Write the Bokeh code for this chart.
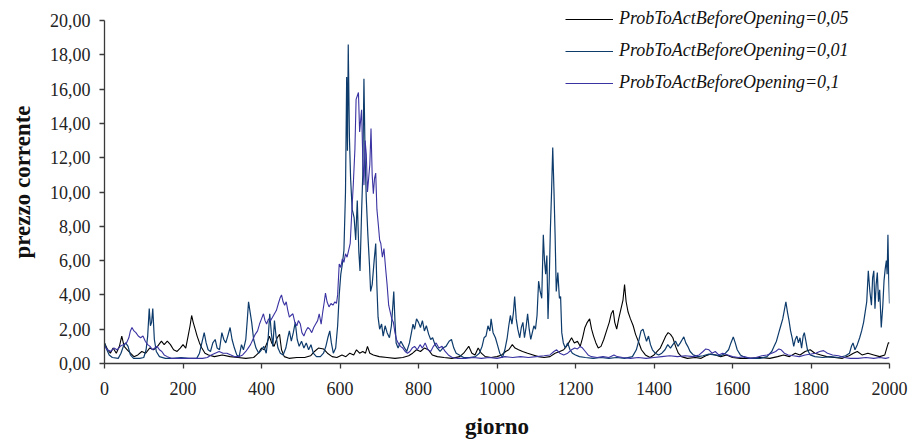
from bokeh.plotting import figure
from bokeh.models import Range1d, Legend, LegendItem, FixedTicker
from bokeh.embed import file_html
from bokeh.resources import INLINE

# Simulated current price per day, one series per ProbToActBeforeOpening value
days_005 = [0, 8, 15, 22, 30, 38, 44, 50, 58, 66, 75, 85, 95, 105, 115, 125, 135, 145, 152, 160,
            168, 176, 185, 193, 200, 207, 213, 218, 222, 226, 231, 236, 242, 248, 256, 265, 280, 300, 320, 340,
            360, 380, 392, 400, 407, 414, 420, 426, 432, 440, 446, 451, 458, 470, 490, 510, 525, 535, 545, 558,
            568, 580, 592, 605, 615, 625, 635, 642, 650, 658, 665, 670, 676, 685, 700, 720, 740, 760, 775, 785,
            795, 805, 815, 825, 835, 848, 865, 885, 905, 915, 928, 936, 944, 952, 960, 970, 985, 1000, 1012, 1022,
            1030, 1039, 1046, 1055, 1065, 1078, 1092, 1105, 1120, 1135, 1148, 1160, 1170, 1180, 1190, 1197, 1205, 1212, 1218, 1224,
            1230, 1236, 1241, 1246, 1252, 1258, 1265, 1272, 1279, 1286, 1291, 1296, 1300, 1305, 1310, 1316, 1321, 1325, 1329, 1334,
            1340, 1347, 1353, 1360, 1368, 1378, 1390, 1400, 1408, 1416, 1424, 1430, 1436, 1442, 1448, 1455, 1462, 1470, 1485, 1505,
            1520, 1532, 1545, 1556, 1570, 1585, 1600, 1620, 1645, 1670, 1695, 1715, 1730, 1745, 1760, 1772, 1785, 1798, 1810, 1825,
            1840, 1860, 1880, 1897, 1908, 1918, 1930, 1945, 1960, 1975, 1988, 1993, 1997, 2000]
price_005 = [1.2, 0.8, 0.6, 0.9, 0.6, 1.0, 1.6, 1.0, 0.8, 0.6, 0.4, 0.5, 0.7, 0.6, 0.9, 0.8, 1.0, 1.3, 1.1, 1.3,
             1.1, 0.8, 0.7, 0.9, 1.1, 0.9, 1.6, 2.2, 2.8, 2.4, 2.0, 1.6, 1.2, 0.9, 0.6, 0.5, 0.4, 0.5, 0.4, 0.35,
             0.3, 0.35, 0.6, 0.9, 0.8, 1.2, 1.6, 1.2, 1.0, 1.5, 1.7, 0.8, 0.4, 0.3, 0.35, 0.35, 0.45, 0.7, 0.9, 0.85,
             0.6, 0.4, 0.35, 0.5, 0.4, 0.6, 0.5, 0.8, 0.6, 0.7, 0.6, 1.0, 0.6, 0.5, 0.4, 0.35, 0.3, 0.35, 0.45, 0.6,
             0.8, 0.7, 0.9, 0.8, 0.5, 0.4, 0.35, 0.3, 0.4, 0.6, 1.0, 0.6, 0.5, 0.9, 0.6, 0.4, 0.35, 0.4, 0.5, 0.7,
             0.8, 1.1, 0.9, 0.8, 0.7, 0.6, 0.5, 0.4, 0.35, 0.4, 0.6, 0.7, 0.8, 1.1, 1.5, 1.2, 1.3, 1.0, 1.5, 2.1,
             2.4, 2.6, 2.0, 1.6, 1.2, 0.9, 1.0, 1.4, 1.9, 2.4, 2.9, 3.1, 2.4, 2.0, 2.6, 3.2, 3.7, 4.6, 3.6, 3.0,
             2.6, 2.2, 1.7, 1.3, 0.8, 0.5, 0.35, 0.5, 0.7, 0.9, 1.3, 1.6, 1.8, 1.7, 1.5, 1.0, 0.6, 0.4, 0.3, 0.35,
             0.3, 0.45, 0.55, 0.5, 0.4, 0.5, 0.35, 0.3, 0.3, 0.35, 0.3, 0.4, 0.5, 0.4, 0.6, 0.5, 0.7, 0.8, 0.6, 0.5,
             0.4, 0.35, 0.3, 0.45, 0.6, 0.7, 0.5, 0.6, 0.5, 0.4, 0.5, 0.9, 1.2, 1.2]

days_001 = [0, 6, 12, 20, 35, 42, 48, 54, 60, 66, 74, 90, 100, 106, 110, 114, 117, 120, 123, 127,
            132, 140, 155, 175, 195, 215, 235, 242, 248, 254, 259, 264, 270, 276, 282, 287, 293, 299, 304, 309,
            314, 320, 325, 331, 337, 343, 349, 354, 360, 364, 367, 371, 375, 380, 386, 393, 400, 406, 412, 417,
            421, 425, 429, 433, 437, 442, 448, 455, 462, 467, 471, 476, 481, 486, 491, 496, 502, 508, 514, 520,
            526, 532, 540, 550, 558, 564, 569, 574, 578, 583, 589, 594, 598, 602, 606, 610, 614, 617, 619, 621,
            624, 627, 631, 636, 640, 644, 648, 651, 655, 658, 661, 664, 667, 671, 675, 678, 682, 687, 691, 694,
            697, 701, 706, 710, 715, 720, 726, 731, 735, 737, 740, 743, 748, 755, 762, 770, 777, 782, 786, 790,
            795, 800, 805, 810, 815, 820, 826, 831, 836, 842, 848, 855, 862, 870, 878, 884, 890, 896, 904, 915,
            930, 945, 955, 962, 967, 972, 977, 982, 985, 990, 996, 1001, 1007, 1014, 1020, 1026, 1030, 1034, 1038, 1042,
            1045, 1049, 1053, 1058, 1062, 1066, 1070, 1074, 1078, 1082, 1086, 1090, 1094, 1098, 1102, 1106, 1110, 1114, 1118, 1121,
            1124, 1127, 1130, 1133, 1136, 1139, 1142, 1145, 1148, 1151, 1155, 1159, 1162, 1165, 1169, 1174, 1180, 1186, 1192, 1200,
            1210, 1225, 1245, 1265, 1285, 1305, 1325, 1345, 1355, 1362, 1367, 1372, 1377, 1381, 1386, 1391, 1396, 1403, 1412, 1420,
            1428, 1435, 1442, 1448, 1455, 1461, 1467, 1472, 1476, 1481, 1486, 1492, 1500, 1512, 1525, 1540, 1555, 1570, 1582, 1590,
            1596, 1602, 1607, 1612, 1620, 1632, 1650, 1670, 1688, 1700, 1706, 1712, 1718, 1723, 1728, 1732, 1736, 1740, 1744, 1748,
            1752, 1756, 1760, 1764, 1768, 1772, 1776, 1780, 1783, 1787, 1791, 1798, 1810, 1830, 1850, 1870, 1888, 1898, 1903, 1907,
            1912, 1918, 1924, 1929, 1934, 1938, 1942, 1946, 1950, 1954, 1957, 1960, 1963, 1966, 1969, 1972, 1975, 1979, 1983, 1986,
            1989, 1992, 1994, 1996, 1998, 2000]
price_001 = [1.2, 0.8, 0.5, 0.35, 0.3, 0.6, 1.0, 1.2, 1.0, 0.5, 0.3, 0.3, 0.35, 0.8, 1.6, 3.2, 2.2, 2.4, 3.2, 1.4,
             0.7, 0.4, 0.3, 0.3, 0.35, 0.3, 0.3, 0.6, 1.2, 1.8, 1.2, 0.8, 0.7, 1.2, 1.4, 0.9, 0.8, 1.8, 1.4, 1.2,
             1.6, 2.1, 1.4, 0.9, 0.5, 0.4, 1.1, 0.8, 1.4, 2.6, 3.6, 3.0, 2.4, 1.4, 0.9, 0.6, 0.8, 1.0, 0.6, 1.5,
             2.9, 1.8, 1.0, 2.5, 1.6, 0.9, 0.6, 0.5, 0.9, 1.5, 1.9, 1.3, 1.8, 2.4, 1.4, 1.0, 1.3, 0.9, 1.2, 0.8,
             1.1, 0.6, 0.4, 0.4, 0.6, 1.0, 1.5, 1.9, 1.2, 0.6, 0.9, 2.2, 4.0, 5.2, 5.8, 6.6, 10.0, 16.7, 12.4, 18.6,
             13.2, 10.8, 9.0, 8.5, 7.2, 9.5, 6.5, 5.4, 8.8, 11.0, 16.6, 12.0, 9.6, 7.5, 5.8, 4.2, 4.6, 6.0, 7.0, 4.5,
             2.7, 2.0, 2.3, 1.6, 2.2, 1.8, 1.5, 2.2, 3.5, 4.2, 2.5, 1.2, 0.9, 1.3, 1.0, 0.7, 1.2, 1.8, 2.3, 2.0,
             2.6, 2.4, 2.1, 2.5, 1.9, 2.2, 1.7, 1.4, 1.5, 1.1, 0.9, 0.7, 0.9, 1.0, 1.3, 1.4, 0.9, 0.6, 0.5, 0.35,
             0.35, 0.4, 0.6, 1.0, 1.5, 1.6, 2.2, 1.9, 2.6, 1.8, 1.5, 1.1, 0.6, 0.35, 0.8, 1.5, 2.2, 2.8, 2.3, 3.0,
             3.9, 2.6, 2.0, 1.5, 2.1, 2.4, 1.5, 2.1, 2.9, 2.0, 1.4, 1.8, 2.2, 2.0, 2.8, 4.8, 4.2, 3.8, 7.5, 6.0,
             5.2, 6.3, 2.6, 4.8, 7.8, 10.0, 12.6, 10.2, 7.5, 4.2, 5.3, 3.8, 3.9, 1.8, 1.2, 0.9, 1.2, 0.8, 0.6, 0.5,
             0.4, 0.35, 0.3, 0.35, 0.3, 0.35, 0.3, 0.4, 0.8, 1.4, 1.9, 2.0, 1.6, 1.3, 1.6, 1.1, 0.8, 0.6, 0.5, 0.6,
             0.8, 1.1, 0.9, 1.1, 1.3, 1.0, 1.2, 1.4, 1.55, 1.2, 1.0, 0.7, 0.5, 0.4, 0.45, 0.55, 0.5, 0.45, 0.6, 0.8,
             1.2, 1.55, 1.2, 0.8, 0.5, 0.35, 0.3, 0.3, 0.4, 0.7, 1.0, 1.3, 1.8, 2.2, 2.6, 3.1, 3.6, 3.0, 2.5, 1.9,
             1.5, 1.0, 1.4, 1.6, 1.2, 1.5, 0.9, 1.6, 1.8, 1.3, 0.8, 0.5, 0.4, 0.35, 0.4, 0.35, 0.45, 0.6, 1.0, 1.2,
             0.8, 1.1, 1.5, 1.9, 2.4, 3.0, 3.6, 5.4, 4.2, 3.4, 5.0, 5.4, 3.2, 4.6, 5.3, 3.6, 4.3, 2.1, 3.4, 4.8,
             5.5, 6.0, 5.2, 7.5, 5.0, 3.5]

days_01 = [0, 8, 16, 24, 32, 40, 48, 56, 62, 66, 70, 75, 80, 86, 92, 98, 104, 110, 116, 122,
           128, 134, 140, 146, 152, 160, 170, 190, 210, 230, 250, 262, 272, 282, 292, 302, 312, 322, 332, 342,
           352, 360, 366, 372, 378, 384, 390, 395, 400, 405, 409, 413, 418, 423, 428, 433, 438, 443, 447, 451,
           455, 459, 463, 467, 471, 475, 480, 485, 490, 494, 499, 503, 508, 513, 518, 523, 528, 533, 538, 543,
           547, 552, 556, 560, 563, 567, 572, 577, 582, 587, 591, 594, 598, 602, 606, 610, 614, 618, 622, 626,
           630, 634, 638, 641, 644, 647, 650, 653, 655, 658, 661, 664, 667, 670, 673, 676, 679, 682, 685, 688,
           691, 694, 698, 701, 704, 708, 712, 716, 720, 724, 728, 732, 736, 740, 744, 748, 754, 760, 766, 772,
           778, 784, 790, 797, 804, 810, 817, 824, 831, 838, 845, 852, 860, 868, 876, 886, 900, 920, 940, 960,
           980, 1000, 1020, 1040, 1060, 1080, 1100, 1120, 1135, 1145, 1152, 1160, 1170, 1180, 1190, 1198, 1205, 1212, 1218, 1225,
           1232, 1240, 1255, 1270, 1285, 1298, 1306, 1320, 1340, 1360, 1380, 1400, 1420, 1440, 1460, 1480, 1500, 1515, 1525, 1532,
           1540, 1548, 1556, 1565, 1575, 1588, 1600, 1615, 1630, 1645, 1660, 1675, 1688, 1700, 1710, 1718, 1724, 1732, 1742, 1755,
           1770, 1785, 1800, 1812, 1822, 1832, 1842, 1855, 1870, 1885, 1900, 1920, 1940, 1960, 1975, 1990, 2000]
price_01 = [1.0, 0.8, 0.7, 0.9, 0.8, 1.0, 1.1, 1.2, 1.5, 1.9, 2.1, 1.9, 1.8, 1.6, 1.5, 1.6, 1.3, 1.1, 1.0, 0.8,
            0.9, 1.0, 0.8, 0.7, 0.5, 0.4, 0.3, 0.3, 0.3, 0.3, 0.3, 0.35, 0.5, 0.6, 0.7, 0.6, 0.6, 0.5, 0.4, 0.4,
            0.5, 0.7, 0.9, 1.1, 1.4, 1.7, 1.9, 2.3, 2.6, 2.9, 2.5, 2.3, 2.6, 2.5, 2.7, 2.9, 3.1, 3.5, 3.8, 4.0,
            3.6, 3.4, 3.6, 3.1, 2.7, 2.8, 2.9, 2.4, 2.2, 2.5, 2.3, 1.8, 1.6, 1.9, 2.1, 2.0, 1.8, 2.1, 2.3, 2.5,
            2.9, 2.3, 3.0, 3.6, 4.1, 3.6, 3.3, 3.5, 3.4, 3.6, 3.5, 4.0, 5.8, 5.6, 6.1, 5.9, 6.4, 6.2, 6.6, 7.0,
            8.8, 10.5, 12.5, 15.4, 15.6, 15.8, 13.5, 14.3, 14.8, 12.0, 10.4, 13.0, 12.2, 10.0, 10.8, 11.6, 13.7, 11.0, 9.9, 10.8,
            11.1, 9.0, 8.0, 7.2, 7.0, 6.2, 6.7, 5.6, 4.6, 3.4, 3.0, 2.6, 2.4, 1.8, 1.4, 1.2, 1.0, 0.9, 0.7, 0.6,
            0.7, 0.9, 1.0, 0.8, 1.1, 0.9, 1.2, 0.8, 0.7, 1.0, 1.2, 0.9, 1.0, 0.7, 0.5, 0.35, 0.3, 0.3, 0.35, 0.3,
            0.35, 0.3, 0.4, 0.35, 0.4, 0.35, 0.4, 0.45, 0.5, 0.7, 0.8, 0.6, 0.5, 0.6, 0.8, 0.9, 0.85, 1.0, 0.9, 0.7,
            0.5, 0.4, 0.35, 0.4, 0.35, 0.5, 0.4, 0.35, 0.3, 0.35, 0.3, 0.35, 0.4, 0.45, 0.4, 0.45, 0.4, 0.5, 0.7, 0.85,
            0.8, 0.6, 0.7, 0.5, 0.6, 0.5, 0.4, 0.35, 0.4, 0.3, 0.35, 0.45, 0.5, 0.6, 0.7, 0.85, 0.8, 0.6, 0.5, 0.45,
            0.4, 0.5, 0.55, 0.6, 0.7, 0.75, 0.6, 0.5, 0.45, 0.35, 0.3, 0.3, 0.35, 0.3, 0.35, 0.3, 0.35]

series_labels = ["ProbToActBeforeOpening=0,05",
                 "ProbToActBeforeOpening=0,01",
                 "ProbToActBeforeOpening=0,1"]
series_colors = ["#000000", "#0d3b6c", "#3a33a2"]

x_ticks = [0, 200, 400, 600, 800, 1000, 1200, 1400, 1600, 1800, 2000]
y_ticks = [0, 2, 4, 6, 8, 10, 12, 14, 16, 18, 20]
y_tick_labels = ["0,00", "2,00", "4,00", "6,00", "8,00", "10,00",
                 "12,00", "14,00", "16,00", "18,00", "20,00"]

FONT = "'Liberation Serif', serif"

# The frame reaches the top edge so the legend above the 20,00 tick is not clipped;
# the y axis line itself stops at 20.
Y_TOP = 20 * 363 / 343

p = figure(width=912, height=448, output_backend="svg", toolbar_location=None,
           x_range=Range1d(0, 2000), y_range=Range1d(0, Y_TOP),
           min_border_left=104, min_border_right=23, min_border_top=0, min_border_bottom=85,
           background_fill_color="white", border_fill_color="white")
p.outline_line_color = None
p.xgrid.visible = False
p.ygrid.visible = False

r1 = p.line(days_005, price_005, line_color=series_colors[0], line_width=1.1)
r2 = p.line(days_001, price_001, line_color=series_colors[1], line_width=1.2)
r3 = p.line(days_01, price_01, line_color=series_colors[2], line_width=1.1)

for ax in (p.xaxis[0], p.yaxis[0]):
    ax.axis_line_color = "#3a3a3a"
    ax.axis_line_width = 1.3
    ax.major_tick_line_color = "#3a3a3a"
    ax.major_tick_line_width = 1.3
    ax.major_tick_in = 0
    ax.major_tick_out = 5
    ax.minor_tick_line_color = None
    ax.major_label_text_font = FONT
    ax.major_label_text_font_size = "18px"
    ax.major_label_text_color = "#222222"
    ax.axis_label_text_font = FONT
    ax.axis_label_text_font_style = "bold"
    ax.axis_label_text_font_size = "23px"
    ax.axis_label_text_color = "#111111"

p.xaxis.ticker = FixedTicker(ticks=x_ticks)
p.xaxis.axis_label = "giorno"
p.xaxis.major_label_standoff = 13
p.xaxis.axis_label_standoff = 16

p.yaxis.ticker = FixedTicker(ticks=y_ticks)
p.yaxis.bounds = (0, 20)
p.yaxis.major_label_overrides = {t: s for t, s in zip(y_ticks, y_tick_labels)}
p.yaxis.axis_label = "prezzo corrente"
p.yaxis.major_label_standoff = 9
p.yaxis.axis_label_standoff = 12

legend = Legend(
    items=[LegendItem(label=series_labels[0], renderers=[r1]),
           LegendItem(label=series_labels[1], renderers=[r2]),
           LegendItem(label=series_labels[2], renderers=[r3])],
    location=(461, 270),
    glyph_width=48, glyph_height=20, label_height=20, spacing=11,
    label_standoff=6, padding=0, margin=0,
    label_text_font=FONT, label_text_font_style="italic",
    label_text_font_size="18px", label_text_color="#111111",
    background_fill_alpha=0, border_line_alpha=0,
)
p.add_layout(legend)

open("out.html", "w").write(file_html(p, INLINE))
